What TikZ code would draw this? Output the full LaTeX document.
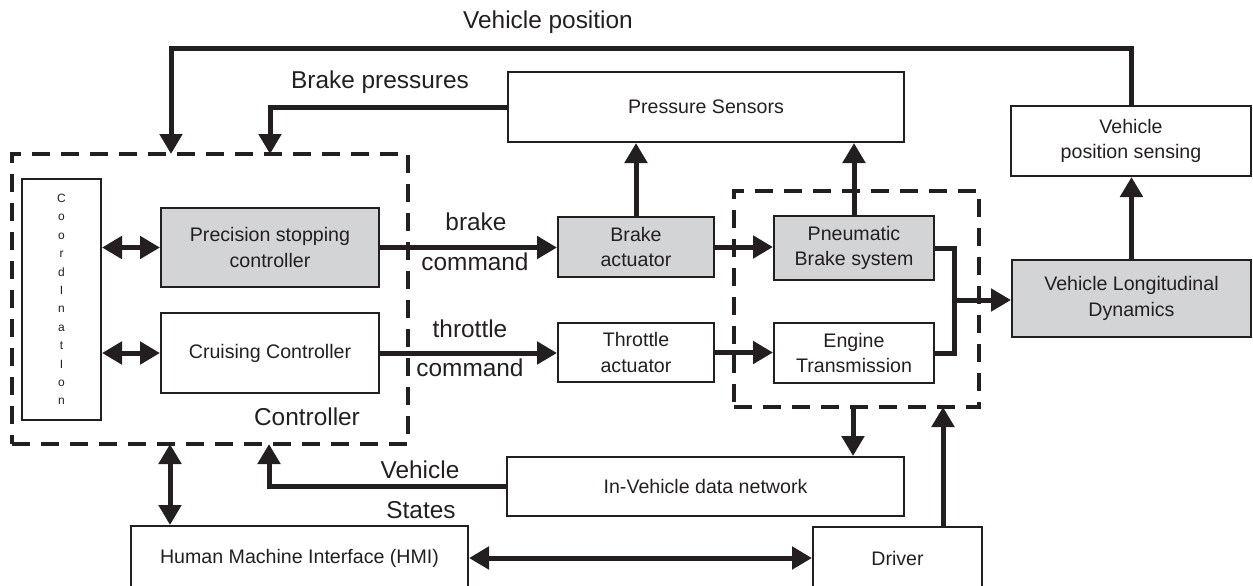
\documentclass[tikz,border=0pt]{standalone}
\usepackage{fontspec}
\setmainfont{Liberation Sans}
\usepackage{tikz}
\usetikzlibrary{positioning,calc,arrows.meta}
\definecolor{inkc}{HTML}{231F20}
\definecolor{fillc}{HTML}{D3D4D6}

\begin{document}
\begin{tikzpicture}[x=0.5pt, y=-0.5pt, inkc,
  blk/.style={draw=inkc, line width=1pt, align=center, inner sep=0pt, font=\fontsize{9.8}{12.8}\selectfont},
  shaded/.style={blk, fill=fillc},
  grp/.style={draw=inkc, line width=2pt, dash pattern=on 9pt off 5.5pt, inner sep=0pt},
  conn/.style={line width=2.5pt, -{Triangle[length=10pt,width=11pt]}},
  dconn/.style={line width=2.5pt, {Triangle[length=10pt,width=11pt]}-{Triangle[length=10pt,width=11pt]}},
  lbl/.style={font=\fontsize{12.2}{14}\selectfont}]
 \useasboundingbox (0,0) rectangle (1253,585);
 % dashed groups
 \node[grp, minimum width=198pt, minimum height=145pt] (ctrlbox) at (210,299) {};
 \node[grp, minimum width=122.5pt, minimum height=108pt] (plantbox) at (856.5,299) {};
 % blocks
 \node[blk, minimum width=39.5pt, minimum height=120.5pt, font=\fontsize{6}{9.2}\selectfont] (coord) at (61.5,299.5) {C\\o\\o\\r\\d\\I\\n\\a\\t\\I\\o\\n};
 \node[shaded, minimum width=109pt, minimum height=39.5pt] (psc) at (270,247.5) {Precision stopping\\controller};
 \node[blk, minimum width=109pt, minimum height=40pt] (cruise) at (270,353) {Cruising Controller};
 \node[shaded, minimum width=78pt, minimum height=30pt] (bact) at (636,247) {Brake\\actuator};
 \node[blk, minimum width=78pt, minimum height=29.5pt] (tact) at (636,352.5) {Throttle\\actuator};
 \node[shaded, minimum width=80pt, minimum height=32pt] (pbrake) at (854,248) {Pneumatic\\Brake system};
 \node[blk, minimum width=80pt, minimum height=30pt] (engine) at (854,353) {Engine\\Transmission};
 \node[shaded, minimum width=119.5pt, minimum height=38.5pt] (vdyn) at (1131.5,298.5) {Vehicle Longitudinal\\Dynamics};
 \node[blk, minimum width=120pt, minimum height=35pt] (vsense) at (1131,141) {Vehicle\\position sensing};
 \node[blk, minimum width=198pt, minimum height=35pt] (psens) at (706,107) {Pressure Sensors};
 \node[blk, minimum width=198.5pt, minimum height=29.5pt] (net) at (705.5,486.5) {In-Vehicle data network};
 \node[blk, minimum width=168.5pt, minimum height=32pt] (hmi) at (299.5,558) {Human Machine Interface (HMI)};
 \node[blk, minimum width=84.5pt, minimum height=31.5pt] (driver) at (897.5,558.5) {Driver};
 % labels
 \node[lbl] (poslbl) at (548,22) {Vehicle position};
 \node[lbl] (prslbl) at (380,82) {Brake pressures};
 \node[lbl] (brklbl) at (476,222) {brake};
 \node[lbl] (brkcmd) at (475,262) {command};
 \node[lbl] (thrlbl) at (470,329) {throttle};
 \node[lbl] (thrcmd) at (470,368) {command};
 \node[lbl] (ctrllbl) at (307,417) {Controller};
 \node[lbl] (vstlbl) at (420,470) {Vehicle};
 \node[lbl] (vstlbl2) at (421,510) {States};
 % connector ends
 \coordinate (posbus) at (0,48);
 \coordinate (posin) at (171,154);
 \coordinate (prsin) at (270,154);
 \coordinate (statesin) at (269,444);
 \coordinate (hmilink) at (170,444);
 \coordinate (netdrop) at (853,407);
 \coordinate (drvup) at (943,407);
 \coordinate (merge) at (954,300);
 % connectors
 \draw[conn] (vsense.north) |- (posin |- posbus) -- (posin);
 \draw[conn] (psens.west) -| (prsin);
 \draw[conn] (psc.east) -- (psc.east -| bact.west);
 \draw[conn] (cruise.east) -- (cruise.east -| tact.west);
 \foreach \b in {bact,pbrake}
   \draw[conn] (\b.north) -- (\b.north |- psens.south);
 \draw[conn] (bact.east) -- (bact.east -| pbrake.west);
 \draw[conn] (tact.east) -- (tact.east -| engine.west);
 \draw[line width=2.5pt] (pbrake.east) -| (merge) |- (engine.east);
 \draw[conn] (merge) -- (merge -| vdyn.west);
 \draw[conn] (vdyn.north) -- (vdyn.north |- vsense.south);
 \draw[conn] (netdrop) -- (netdrop |- net.north);
 \draw[conn] (drvup |- driver.north) -- (drvup);
 \draw[conn] (net.west) -| (statesin);
 \draw[dconn] (hmilink |- hmi.north) -- (hmilink);
 \draw[dconn] (hmi.east) -- (hmi.east -| driver.west);
 \foreach \c in {psc,cruise}
   \draw[dconn] (coord.east |- \c.west) -- (\c.west);
\end{tikzpicture}
\end{document}
